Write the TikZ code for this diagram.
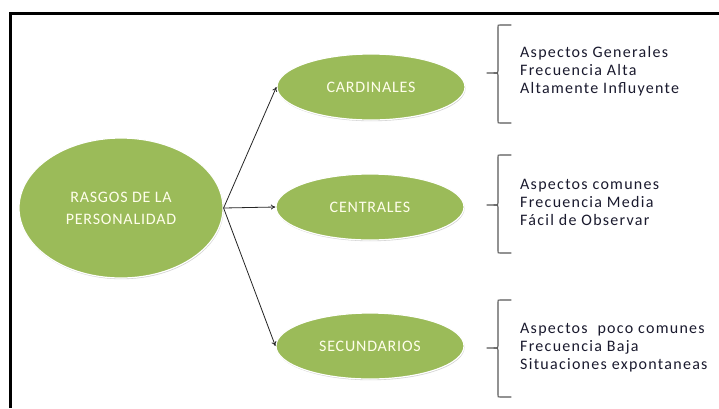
\documentclass[tikz,border=0pt]{standalone}
\usepackage{fontspec}
\setmainfont{Carlito}
\newfontfamily\listfont[LetterSpace=8]{Carlito}
\newfontfamily\bubblefont[LetterSpace=5]{Carlito}
\usetikzlibrary{shapes.geometric,arrows.meta,shadows}
\definecolor{olive}{HTML}{9BBB59}
\definecolor{bracegray}{HTML}{595959}
\definecolor{txtdark}{HTML}{1A1A2E}
\tikzset{
  bubble/.style={ellipse, fill=olive, draw=white, line width=1.2pt, inner sep=0pt,
    text=white!92!yellow, align=center, font=\bubblefont\fontsize{16}{22}\selectfont,
    drop shadow={opacity=0.35, shadow xshift=0.6pt, shadow yshift=-1.2pt, fill=gray}},
  bigbubble/.style={bubble, minimum width=204pt, minimum height=140pt},
  smallbubble/.style={bubble, minimum width=188pt, minimum height=66pt},
  link/.style={-{To[length=4.5pt,width=5pt]}, line width=0.8pt, black!85},
  bracket/.style={draw=bracegray, line width=1.1pt, line cap=round},
  listtext/.style={anchor=west, align=left, inner sep=0pt, text=txtdark,
    font=\listfont\fontsize{16}{17.8}\selectfont},
  frame/.style={line width=3pt, black}
}
\begin{document}
\begin{tikzpicture}[x=1pt, y=-1pt]
  \useasboundingbox (0,0) rectangle (719,408);
  \fill[white] (0,0) rectangle (719,408);
  % frame
  \draw[frame] (10.5,408) -- (10.5,13.5) -- (719,13.5);
  % nodes
  \node[bigbubble] (rasgos) at (121,208) {RASGOS DE LA\\PERSONALIDAD};
  \node[smallbubble] (card) at (371,87) {CARDINALES};
  \node[smallbubble] (cent) at (370,207) {CENTRALES};
  \node[smallbubble] (sec) at (370,346) {SECUNDARIOS};
  % connectors
  \coordinate (hub) at (rasgos.east);
  \draw[link] (hub) -- (card.west);
  \draw[link] (hub) -- (cent.west);
  \draw[link] (hub) -- (sec.west);
  % brackets
  \foreach \t/\m/\b in {25/73/123, 155/205/253, 300/348/397}{
    \draw[bracket] (511,\t) -- (500,\t) .. controls (498,\t) .. (498,\t+2) -- (498,\m-4)
      .. controls (498,\m) .. (494,\m) -- (487,\m);
    \draw[bracket] (511,\b) -- (500,\b) .. controls (498,\b) .. (498,\b-2) -- (498,\m+4)
      .. controls (498,\m) .. (494,\m);
  }
  % texts
  \node[listtext] (t1) at (520,71.5) {Aspectos Generales\\Frecuencia Alta\\Altamente Influyente};
  \node[listtext] (t2) at (520,202.5) {Aspectos comunes\\Frecuencia Media\\Fácil de Observar};
  \node[listtext] (t3) at (520,347.5) {Aspectos\ \ poco comunes\\Frecuencia Baja\\Situaciones expontaneas};
\end{tikzpicture}
\end{document}
